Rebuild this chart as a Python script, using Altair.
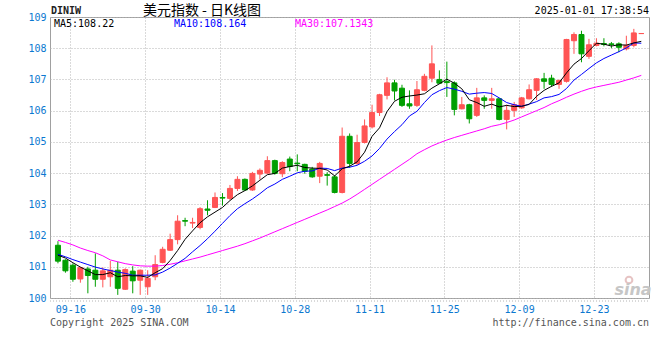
import altair as alt
import pandas as pd

# ---------------- data ----------------
opens = [101.69, 101.21, 101.05, 100.61, 100.93, 100.89, 100.60, 100.68, 100.89, 100.28,
         100.86, 100.57, 100.36, 100.68, 101.14, 101.53, 101.87, 102.48, 102.40, 102.26,
         102.85, 102.90, 103.22, 103.19, 103.51, 103.80, 103.46, 103.97, 104.00, 104.40,
         103.98, 104.45, 104.32, 104.28, 104.13, 103.90, 103.95, 103.88, 103.38, 105.18,
         104.31, 104.98, 105.48, 105.94, 106.49, 106.89, 106.72, 106.22, 106.17, 106.65,
         107.04, 107.00, 106.93, 106.89, 106.06, 106.19, 105.85, 106.41, 106.33, 106.38,
         105.72, 106.01, 106.09, 106.38, 106.65, 107.02, 107.04, 106.84, 106.94, 108.24,
         108.44, 107.74, 108.09, 108.15, 108.14, 108.14, 107.98, 108.09, 108.47]
highs = [101.82, 101.24, 101.11, 101.00, 101.00, 101.43, 100.98, 101.19, 101.16, 100.95,
         101.02, 100.91, 100.89, 101.37, 101.64, 102.06, 102.65, 102.57, 102.57, 102.91,
         103.13, 103.38, 103.36, 103.62, 103.90, 103.83, 104.04, 104.15, 104.54, 104.43,
         104.38, 104.53, 104.60, 104.30, 104.20, 104.36, 104.03, 103.94, 105.46, 105.27,
         105.23, 105.72, 106.19, 106.54, 107.07, 106.99, 106.83, 106.65, 106.95, 107.18,
         108.09, 107.29, 107.57, 106.94, 106.44, 106.22, 106.73, 106.49, 106.73, 106.40,
         106.19, 106.28, 106.44, 106.84, 107.04, 107.21, 107.15, 106.99, 108.30, 108.51,
         108.56, 108.30, 108.32, 108.32, 108.20, 108.19, 108.40, 108.62, 108.47]
lows = [101.11, 100.81, 100.52, 100.49, 100.15, 100.36, 100.34, 100.36, 100.10, 100.26,
        100.15, 100.10, 100.10, 100.57, 101.11, 101.51, 101.72, 102.30, 102.24, 102.20,
        102.65, 102.88, 102.96, 103.14, 103.43, 103.44, 103.43, 103.79, 103.98, 103.95,
        103.87, 104.06, 104.06, 103.98, 103.85, 103.68, 103.60, 103.35, 103.35, 104.17,
        104.26, 104.95, 105.43, 105.83, 106.36, 106.33, 106.12, 106.06, 106.12, 106.62,
        106.91, 106.86, 106.44, 105.85, 106.04, 105.59, 105.80, 106.06, 106.06, 105.69,
        105.40, 105.80, 106.06, 106.36, 106.34, 106.70, 106.76, 106.70, 106.90, 107.82,
        107.55, 107.66, 108.06, 108.06, 108.00, 107.87, 107.93, 108.03, 108.47]
closes = [101.18, 100.87, 100.60, 100.97, 100.72, 100.60, 100.87, 100.89, 100.31, 100.91,
          100.55, 100.89, 100.63, 101.07, 101.56, 101.87, 102.46, 102.46, 102.42, 102.86,
          102.81, 103.22, 103.20, 103.51, 103.80, 103.46, 103.99, 104.09, 104.40, 103.99,
          104.34, 104.21, 104.30, 104.06, 103.88, 104.31, 103.93, 103.38, 105.18, 104.31,
          104.98, 105.51, 105.94, 106.51, 106.89, 106.63, 106.17, 106.15, 106.67, 107.10,
          107.50, 106.88, 106.90, 106.04, 106.19, 105.74, 106.41, 106.33, 106.38, 105.72,
          106.01, 106.19, 106.41, 106.67, 107.02, 106.94, 106.84, 106.97, 108.28, 108.44,
          107.82, 108.11, 108.16, 108.12, 108.12, 108.03, 108.09, 108.49, 108.47]
ma5 = [101.37, 101.28, 101.13, 100.99, 100.87, 100.75, 100.75, 100.81, 100.68, 100.72,
       100.71, 100.71, 100.66, 100.81, 100.94, 101.20, 101.52, 101.88, 102.15, 102.41,
       102.60, 102.75, 102.90, 103.12, 103.31, 103.44, 103.59, 103.77, 103.95, 103.99,
       104.16, 104.21, 104.25, 104.18, 104.16, 104.15, 104.10, 103.91, 104.14, 104.22,
       104.36, 104.67, 105.18, 105.45, 105.97, 106.30, 106.43, 106.47, 106.50, 106.54,
       106.72, 106.86, 107.01, 106.88, 106.70, 106.35, 106.26, 106.14, 106.21, 106.12,
       106.17, 106.13, 106.14, 106.20, 106.46, 106.65, 106.78, 106.89, 107.21, 107.49,
       107.67, 107.92, 108.16, 108.13, 108.07, 108.11, 108.10, 108.17, 108.22]
ma10 = [101.40, 101.32, 101.23, 101.15, 101.07, 100.99, 100.93, 100.88, 100.83, 100.79,
        100.73, 100.73, 100.73, 100.74, 100.83, 100.96, 101.11, 101.27, 101.48, 101.68,
        101.90, 102.14, 102.39, 102.64, 102.86, 103.02, 103.17, 103.34, 103.53, 103.65,
        103.80, 103.90, 104.01, 104.06, 104.07, 104.16, 104.15, 104.08, 104.16, 104.19,
        104.25, 104.38, 104.55, 104.79, 105.09, 105.33, 105.55, 105.83, 105.98, 106.26,
        106.51, 106.64, 106.74, 106.69, 106.62, 106.53, 106.56, 106.58, 106.55, 106.41,
        106.26, 106.19, 106.14, 106.21, 106.29, 106.41, 106.45, 106.52, 106.71, 106.98,
        107.16, 107.35, 107.53, 107.67, 107.78, 107.89, 108.01, 108.17, 108.16]
ma30 = [101.85, 101.78, 101.70, 101.60, 101.52, 101.45, 101.35, 101.22, 101.16, 101.10,
        101.06, 101.03, 101.02, 101.02, 101.04, 101.08, 101.13, 101.19, 101.25, 101.31,
        101.38, 101.45, 101.52, 101.59, 101.66, 101.74, 101.83, 101.92, 102.02, 102.12,
        102.22, 102.32, 102.42, 102.52, 102.62, 102.72, 102.82, 102.93, 103.04, 103.17,
        103.32, 103.48, 103.64, 103.80, 103.96, 104.12, 104.28, 104.44, 104.62, 104.75,
        104.87, 104.97, 105.06, 105.14, 105.21, 105.28, 105.35, 105.42, 105.50, 105.55,
        105.62, 105.70, 105.80, 105.90, 106.00, 106.10, 106.22, 106.32, 106.43, 106.53,
        106.62, 106.70, 106.76, 106.81, 106.86, 106.91, 106.98, 107.05, 107.13]

tick_labels = ['09-16', '09-30', '10-14', '10-28', '11-11', '11-25', '12-09', '12-23']
tick_index = [2, 12, 22, 32, 42, 52, 62, 72]
y_ticks = [100, 101, 102, 103, 104, 105, 106, 107, 108, 109]
legend_texts = ['MA5:108.22', 'MA10:108.164', 'MA30:107.1343']
title_code = 'DINIW'
title_main = '美元指数 - 日K线图'
timestamp = '2025-01-01 17:38:54'
copyright_text = 'Copyright 2025 SINA.COM'
url_text = 'http://finance.sina.com.cn'

# ---------------- build ----------------
n = len(closes)
df = pd.DataFrame({
    'i': list(range(n)), 'open': opens, 'high': highs, 'low': lows, 'close': closes,
    'ma5': ma5, 'ma10': ma10, 'ma30': ma30,
})
df['dir'] = ['up' if c >= o else 'down' for o, c in zip(opens, closes)]

RED = '#ff5454'
GREEN = '#009f00'
BLUE = '#0b78d0'
MONO = 'DejaVu Sans Mono'
W, H = 599, 281

grid_offset = 0.34
grid_vals = [t - grid_offset for t in tick_index]
label_expr = '[' + ','.join("'%s'" % s for s in tick_labels) + ']' + \
    '[round((datum.value - %s) / 10)]' % repr(grid_vals[0])

xscale = alt.Scale(domain=[-0.394, 78.36], nice=False, zero=False)
yscale = alt.Scale(domain=[100, 109], nice=False, zero=False)
xaxis = alt.Axis(values=grid_vals, labelExpr=label_expr, grid=True, gridColor='#b4b4b4',
                 gridDash=[1, 2], ticks=False, domain=False, labelFont=MONO,
                 labelFontSize=10, labelColor=BLUE, labelPadding=6, title=None,
                 labelFlush=False, labelOverlap=False)
yaxis = alt.Axis(values=y_ticks, grid=True, gridColor='#b4b4b4', gridDash=[1, 2],
                 ticks=False, domain=False, labelFont=MONO, labelFontSize=10,
                 labelColor=BLUE, labelPadding=4, title=None, labelFlush=False,
                 labelOverlap=False)


def X():
    return alt.X('i:Q', scale=xscale, axis=xaxis)


def Y(field):
    return alt.Y(field, scale=yscale, axis=yaxis)


cscale = alt.Scale(domain=['up', 'down'], range=[RED, GREEN])
base = alt.Chart(df)

wicks = base.mark_rule(strokeWidth=1).encode(
    x=X(), y=Y('low:Q'), y2='high:Q',
    color=alt.Color('dir:N', scale=cscale, legend=None))
bodies = base.mark_bar(size=5, strokeWidth=1).encode(
    x=X(), y=Y('open:Q'), y2='close:Q',
    color=alt.Color('dir:N', scale=cscale, legend=None),
    stroke=alt.Stroke('dir:N', scale=cscale, legend=None))
line30 = base.mark_line(color='#ff00ff', strokeWidth=1).encode(x=X(), y=Y('ma30:Q'))
line10 = base.mark_line(color='#0000ff', strokeWidth=1).encode(x=X(), y=Y('ma10:Q'))
line5 = base.mark_line(color='#000000', strokeWidth=1).encode(x=X(), y=Y('ma5:Q'))


def txt(s, x, y, **kw):
    d = pd.DataFrame({'t': [s]})
    return alt.Chart(d).mark_text(**kw).encode(x=alt.value(x), y=alt.value(y), text='t:N')


texts = [
    txt(title_code, 1, -6, align='left', baseline='middle', font=MONO, fontSize=10,
        fontWeight='bold', color='#222222'),
    txt(title_main, 152, -6, align='center', baseline='middle', font='Noto Sans CJK SC',
        fontSize=14, color='#000000'),
    txt(timestamp, W, -6, align='right', baseline='middle', font=MONO, fontSize=10,
        color='#000000'),
    txt(legend_texts[0], 4, 7, align='left', baseline='middle', font=MONO, fontSize=10,
        color='#000000'),
    txt(legend_texts[1], 124, 7, align='left', baseline='middle', font=MONO, fontSize=10,
        color='#0000ff'),
    txt(legend_texts[2], 245, 7, align='left', baseline='middle', font=MONO, fontSize=10,
        color='#ff00ff'),
    txt(copyright_text, 0, 306, align='left', baseline='middle', font=MONO, fontSize=10,
        color='#555555'),
    txt(url_text, W, 306, align='right', baseline='middle', font=MONO, fontSize=10,
        color='#555555'),
    txt('sina', 583, 273, align='center', baseline='middle', font='DejaVu Sans',
        fontSize=16, fontWeight='bold', fontStyle='italic', color='#c6c6c6'),
]

eye = alt.Chart(pd.DataFrame({'t': [0]})).mark_point(
    shape='circle', filled=False, color='#dcaaaa', size=45, strokeWidth=2).encode(
    x=alt.value(579), y=alt.value(263))

dotted = alt.Chart(pd.DataFrame({'t': [0]})).mark_rule(
    color='#b4b4b4', strokeDash=[1, 2], strokeWidth=1).encode(
    x=alt.value(0), x2=alt.value(W), y=alt.value(284))

chart = alt.layer(
    wicks, bodies, line30, line10, line5, dotted, eye, *texts
).properties(
    width=W, height=H,
    autosize=alt.AutoSizeParams(type='none'),
    padding={'left': 50, 'top': 17, 'right': 11, 'bottom': 62},
).configure_view(stroke='#a0a0a0', strokeWidth=1)

chart.save('out.html', embed_options={'renderer': 'svg', 'actions': False})
